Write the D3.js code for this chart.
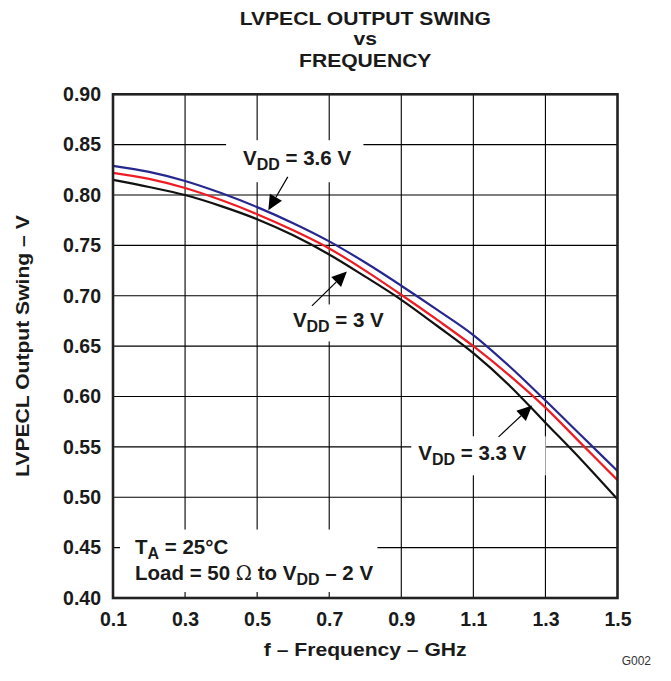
<!DOCTYPE html>
<html>
<head>
<meta charset="utf-8">
<script src="https://cdn.jsdelivr.net/npm/d3@7"></script>
<style>
  html, body { margin: 0; padding: 0; background: #fff; }
  svg { display: block; font-family: "Liberation Sans", Arial, Helvetica, sans-serif; }
</style>
</head>
<body>
<svg id="chart" width="671" height="681"></svg>
<script>
// ---- data ----
const frequency = [0.1, 0.2, 0.3, 0.4, 0.5, 0.6, 0.7, 0.8, 0.9, 1.0, 1.1, 1.2, 1.3, 1.4, 1.5];
const swing36 = [0.829, 0.823, 0.814, 0.802, 0.788, 0.772, 0.754, 0.733, 0.710, 0.686, 0.661, 0.630, 0.596, 0.561, 0.526];
const swing33 = [0.822, 0.816, 0.807, 0.795, 0.781, 0.765, 0.747, 0.725, 0.701, 0.676, 0.650, 0.621, 0.589, 0.553, 0.517];
const swing30 = [0.815, 0.808, 0.800, 0.789, 0.776, 0.760, 0.741, 0.719, 0.696, 0.670, 0.643, 0.611, 0.574, 0.537, 0.498];
const seriesNames = ["3.6 V", "3.3 V", "3 V"];
const xTicks = [0.1, 0.3, 0.5, 0.7, 0.9, 1.1, 1.3, 1.5];
const yTicks = [0.40, 0.45, 0.50, 0.55, 0.60, 0.65, 0.70, 0.75, 0.80, 0.85, 0.90];
const titleLines = ["LVPECL OUTPUT SWING", "vs", "FREQUENCY"];
const xTitle = "f \u2013 Frequency \u2013 GHz";
const yTitle = "LVPECL Output Swing \u2013 V";
const figureId = "G002";

// ---- layout ----
const svg = d3.select("#chart");
const L = 113, R = 617.5, T = 94.3, B = 598;
const x = d3.scaleLinear().domain([0.1, 1.5]).range([L, R]);
const y = d3.scaleLinear().domain([0.40, 0.90]).range([B, T]);
const colors = { "3.6 V": "#26278f", "3.3 V": "#ee1c24", "3 V": "#111111" };
const seriesData = [
  { name: seriesNames[0], values: swing36 },
  { name: seriesNames[1], values: swing33 },
  { name: seriesNames[2], values: swing30 }
];
const ink = "#1a1a1a";
const stretch = 1.11;

// grid
const grid = svg.append("g").attr("stroke", "#000").attr("stroke-width", 1.1);
grid.selectAll("line.v").data(xTicks.slice(1, -1)).join("line")
  .attr("x1", d => x(d)).attr("x2", d => x(d)).attr("y1", T).attr("y2", B);
grid.selectAll("line.h").data(yTicks.slice(1, -1)).join("line")
  .attr("y1", d => y(d)).attr("y2", d => y(d)).attr("x1", L).attr("x2", R);

// annotations (label positions in data units)
const annotations = [
  { main: "V", sub: "DD", rest: " = 3.6 V", fx: 0.461, fy: 0.8296, pad: [17, 12, 9, 9],
    tail: [0.585, 0.818], tip: [0.531, 0.785] },
  { main: "V", sub: "DD", rest: " = 3 V", fx: 0.5992, fy: 0.6686, pad: [8, 8, 7, 6],
    tail: [0.652, 0.690], tip: [0.749, 0.724] },
  { main: "V", sub: "DD", rest: " = 3.3 V", fx: 0.9472, fy: 0.5367, pad: [7, 19, 8, 7],
    tail: [1.170, 0.560], tip: [1.263, 0.591] }
];

const boxLayer = svg.append("g");
const lineLayer = svg.append("g");
const frameLayer = svg.append("g");
const arrowLayer = svg.append("g");
const textLayer = svg.append("g");

function addSubText(parent, px, py, parts, size) {
  const t = parent.append("text").attr("x", px).attr("y", py)
    .attr("font-size", size).attr("font-weight", "bold").attr("fill", ink);
  parts.forEach(p => {
    const ts = t.append("tspan").text(p.text);
    if (p.sub) ts.attr("font-size", size * 0.78).attr("dy", 5);
    else if (p.after) ts.attr("dy", -5);
    if (p.light) ts.attr("font-weight", "normal").attr("font-family", "DejaVu Serif, serif").attr("font-size", size * 0.95);
  });
  return t;
}

annotations.forEach(a => {
  const t = addSubText(textLayer, x(a.fx), y(a.fy),
    [{ text: a.main }, { text: a.sub, sub: true }, { text: a.rest, after: true }], 20.5);
  const bb = t.node().getBBox();
  boxLayer.append("rect")
    .attr("x", bb.x - a.pad[0]).attr("y", bb.y - a.pad[2] + 3)
    .attr("width", bb.width + a.pad[0] + a.pad[1]).attr("height", bb.height + a.pad[2] + a.pad[3] - 3)
    .attr("fill", "#fff");
  const x1 = x(a.tail[0]), y1 = y(a.tail[1]), x2 = x(a.tip[0]), y2 = y(a.tip[1]);
  const ang = Math.atan2(y2 - y1, x2 - x1);
  const len = 15, hw = 7;
  const bx = x2 - len * Math.cos(ang), by = y2 - len * Math.sin(ang);
  arrowLayer.append("line").attr("x1", x1).attr("y1", y1).attr("x2", bx).attr("y2", by)
    .attr("stroke", "#000").attr("stroke-width", 1.2);
  const px = -Math.sin(ang), py = Math.cos(ang);
  arrowLayer.append("path")
    .attr("d", `M${x2},${y2}L${bx + hw * px},${by + hw * py}L${bx - hw * px},${by - hw * py}Z`)
    .attr("fill", "#000");
});

// conditions box
const condX = 0.1 + (135 - 113) / 360;
const t1 = addSubText(textLayer, x(condX), y(0.4 + (598 - 553.5) / 1008),
  [{ text: "T" }, { text: "A", sub: true }, { text: " = 25\u00B0C", after: true }], 20.5);
const t2 = addSubText(textLayer, x(condX), y(0.4 + (598 - 580) / 1008),
  [{ text: "Load = 50 " }, { text: "\u03A9", light: true }, { text: " to V" }, { text: "DD", sub: true }, { text: " \u2013 2 V", after: true }], 20.5);
const b1 = t1.node().getBBox(), b2 = t2.node().getBBox();
const cx0 = Math.min(b1.x, b2.x) - 15, cy0 = b1.y - 5;
const cx1 = Math.max(b1.x + b1.width, b2.x + b2.width) + 4, cy1 = b2.y + b2.height + 4;
boxLayer.append("rect").attr("x", cx0).attr("y", cy0).attr("width", cx1 - cx0).attr("height", cy1 - cy0).attr("fill", "#fff");

// curves
const line = d3.line().x((d, i) => x(frequency[i])).y(d => y(d)).curve(d3.curveMonotoneX);
lineLayer.selectAll("path").data(seriesData).join("path")
  .attr("d", d => line(d.values))
  .attr("fill", "none")
  .attr("stroke", d => colors[d.name])
  .attr("stroke-width", 2.2);

// frame
frameLayer.append("rect").attr("x", L).attr("y", T).attr("width", R - L).attr("height", B - T)
  .attr("fill", "none").attr("stroke", "#222").attr("stroke-width", 2.6);

// axes tick labels
const xAxis = d3.axisBottom(x).tickValues(xTicks).tickFormat(d3.format(".1f")).tickSize(0).tickPadding(14);
const gx = svg.append("g").attr("transform", `translate(0,${B})`).call(xAxis);
gx.select(".domain").remove();
gx.selectAll("text").attr("font-size", 19.5).attr("font-weight", "bold").attr("fill", ink)
  .attr("font-family", "Liberation Sans, Arial, sans-serif");

const yAxis = d3.axisLeft(y).tickValues(yTicks).tickFormat(d3.format(".2f")).tickSize(0).tickPadding(12);
const gy = svg.append("g").attr("transform", `translate(${L},0)`).call(yAxis);
gy.select(".domain").remove();
gy.selectAll("text").attr("font-size", 19.5).attr("font-weight", "bold").attr("fill", ink)
  .attr("font-family", "Liberation Sans, Arial, sans-serif");

function widen(sel) {
  sel.each(function () {
    const w = this.getComputedTextLength();
    d3.select(this).attr("textLength", w * stretch).attr("lengthAdjust", "spacingAndGlyphs");
  });
}

// titles
const cxPlot = (L + R) / 2;
const titleY = [25, 45, 67];
const titles = svg.append("g").selectAll("text").data(titleLines).join("text")
  .attr("x", cxPlot).attr("y", (d, i) => titleY[i])
  .attr("text-anchor", "middle").attr("font-size", 19).attr("font-weight", "bold").attr("fill", ink)
  .text(d => d);
widen(titles);

const xt = svg.append("text").attr("x", cxPlot).attr("y", 656).attr("text-anchor", "middle")
  .attr("font-size", 19).attr("font-weight", "bold").attr("fill", ink).text(xTitle);
widen(xt);

const yt = svg.append("text").attr("transform", `translate(29,${(T + B) / 2}) rotate(-90)`)
  .attr("text-anchor", "middle").attr("font-size", 19).attr("font-weight", "bold").attr("fill", ink).text(yTitle);
widen(yt);

svg.append("text").attr("x", 651).attr("y", 665).attr("text-anchor", "end")
  .attr("font-size", 12).attr("fill", "#333").text(figureId);
</script>
</body>
</html>
